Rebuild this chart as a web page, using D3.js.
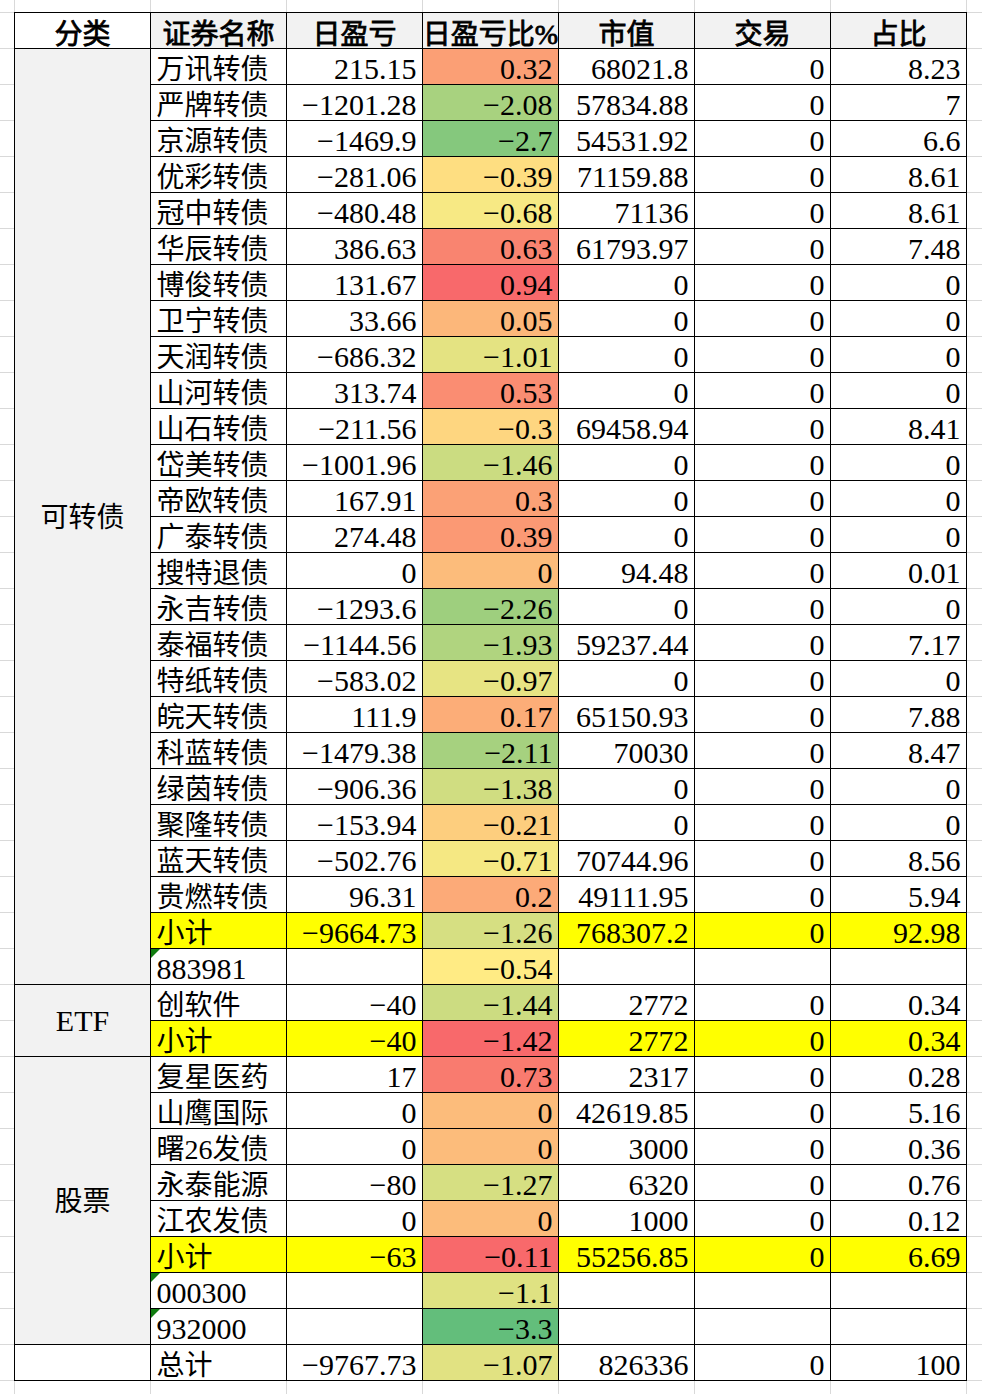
<!DOCTYPE html>
<html>
<head>
<meta charset="utf-8">
<script src="https://cdn.jsdelivr.net/npm/d3@7"></script>
<style>
  html, body { margin: 0; padding: 0; background: #fff; }
  svg { display: block; }
  .cell-text { font-family: "Liberation Serif", "Noto Sans CJK SC", serif; fill: #000; }
</style>
</head>
<body>
<div id="main-table"></div>
<script>
var headers = ["分类", "证券名称", "日盈亏", "日盈亏比%", "市值", "交易", "占比"];

var categories = ["可转债", "ETF", "股票", ""];
var categorySize = [26, 2, 8, 1];

var names = [
  "万讯转债", "严牌转债", "京源转债", "优彩转债", "冠中转债", "华辰转债", "博俊转债", "卫宁转债",
  "天润转债", "山河转债", "山石转债", "岱美转债", "帝欧转债", "广泰转债", "搜特退债", "永吉转债",
  "泰福转债", "特纸转债", "皖天转债", "科蓝转债", "绿茵转债", "聚隆转债", "蓝天转债", "贵燃转债",
  "小计", "883981",
  "创软件", "小计",
  "复星医药", "山鹰国际", "曙26发债", "永泰能源", "江农发债", "小计", "000300", "932000",
  "总计"
];

var pnl = [
  215.15, -1201.28, -1469.9, -281.06, -480.48, 386.63, 131.67, 33.66,
  -686.32, 313.74, -211.56, -1001.96, 167.91, 274.48, 0, -1293.6,
  -1144.56, -583.02, 111.9, -1479.38, -906.36, -153.94, -502.76, 96.31,
  -9664.73, null,
  -40, -40,
  17, 0, 0, -80, 0, -63, null, null,
  -9767.73
];

var pnlPct = [
  0.32, -2.08, -2.7, -0.39, -0.68, 0.63, 0.94, 0.05,
  -1.01, 0.53, -0.3, -1.46, 0.3, 0.39, 0, -2.26,
  -1.93, -0.97, 0.17, -2.11, -1.38, -0.21, -0.71, 0.2,
  -1.26, -0.54,
  -1.44, -1.42,
  0.73, 0, 0, -1.27, 0, -0.11, -1.1, -3.3,
  -1.07
];

var marketValue = [
  68021.8, 57834.88, 54531.92, 71159.88, 71136, 61793.97, 0, 0,
  0, 0, 69458.94, 0, 0, 0, 94.48, 0,
  59237.44, 0, 65150.93, 70030, 0, 0, 70744.96, 49111.95,
  768307.2, null,
  2772, 2772,
  2317, 42619.85, 3000, 6320, 1000, 55256.85, null, null,
  826336
];

var trades = [
  0, 0, 0, 0, 0, 0, 0, 0,
  0, 0, 0, 0, 0, 0, 0, 0,
  0, 0, 0, 0, 0, 0, 0, 0,
  0, null,
  0, 0,
  0, 0, 0, 0, 0, 0, null, null,
  0
];

var weight = [
  8.23, 7, 6.6, 8.61, 8.61, 7.48, 0, 0,
  0, 0, 8.41, 0, 0, 0, 0.01, 0,
  7.17, 0, 7.88, 8.47, 0, 0, 8.56, 5.94,
  92.98, null,
  0.34, 0.34,
  0.28, 5.16, 0.36, 0.76, 0.12, 6.69, null, null,
  100
];

// codes stored as text (green corner mark)
var textCodes = ["883981", "000300", "932000"];

var W = 982, H = 1394;
var nCols = headers.length;
var nRows = names.length + 1;

var x = d3.scaleLinear().domain([0, nCols]).range([14.5, 966.5]);
var y = d3.scaleLinear().domain([0, nRows]).range([12.5, 1380.5]);
var rowH = y(1) - y(0);

// build rows
var rows = [];
var ci = 0, left = categorySize[0];
names.forEach(function(n, i) {
  if (left === 0) { ci++; left = categorySize[ci]; }
  left--;
  rows.push({
    i: i + 1,
    name: n,
    cat: categories[ci],
    values: [pnl[i], pnlPct[i], marketValue[i], trades[i], weight[i]]
  });
});

// colour scale for 日盈亏比% (subtotals of ETF / 股票 sit in their own rule)
function ownRule(r) { return r.name === "小计" && r.cat !== "可转债"; }
var mainPct = rows.filter(function(r) { return !ownRule(r); }).map(function(r) { return r.values[1]; });
var color = d3.scaleLinear()
  .domain([d3.min(mainPct), d3.median(mainPct), d3.max(mainPct)])
  .range(["#63BE7B", "#FFEB84", "#F8696B"]);

function fmt(v) {
  if (v === null || v === undefined) return "";
  return String(v).replace("-", "\u2212");
}

var svg = d3.select("#main-table")
  .append("svg")
    .attr("width", W)
    .attr("height", H);

svg.append("rect").attr("width", W).attr("height", H).attr("fill", "#fff");

// sheet gridlines
var grid = svg.append("g").attr("stroke", "#D9D9D9").attr("stroke-width", 1);
grid.selectAll("line.v")
  .data(d3.range(0, nCols + 2))
  .enter().append("line")
    .attr("x1", function(d) { return x(d); })
    .attr("x2", function(d) { return x(d); })
    .attr("y1", 0).attr("y2", H);
grid.selectAll("line.h")
  .data(d3.range(-1, nRows + 2))
  .enter().append("line")
    .attr("y1", function(d) { return y(d); })
    .attr("y2", function(d) { return y(d); })
    .attr("x1", 0).attr("x2", W);

// header
var head = svg.append("g");
head.selectAll("rect")
  .data(headers)
  .enter().append("rect")
    .attr("x", function(d, i) { return x(i); })
    .attr("y", y(0))
    .attr("width", function(d, i) { return x(i + 1) - x(i); })
    .attr("height", rowH)
    .attr("fill", function(d, i) { return i === 0 ? "#fff" : "#F2F2F2"; })
    .attr("stroke", "#000");
head.selectAll("text")
  .data(headers)
  .enter().append("text")
    .attr("class", "cell-text")
    .attr("x", function(d, i) { return (x(i) + x(i + 1)) / 2; })
    .attr("y", y(1) - 5)
    .attr("text-anchor", "middle")
    .attr("font-size", 28)
    .attr("stroke", "#000")
    .attr("stroke-width", 0.8)
    .text(function(d) { return d; });

// category (merged) cells
var catStart = [];
categorySize.reduce(function(acc, s) { catStart.push(acc); return acc + s; }, 1);
var cat = svg.append("g");
cat.selectAll("rect")
  .data(categories)
  .enter().append("rect")
    .attr("x", x(0))
    .attr("y", function(d, i) { return y(catStart[i]); })
    .attr("width", x(1) - x(0))
    .attr("height", function(d, i) { return y(catStart[i] + categorySize[i]) - y(catStart[i]); })
    .attr("fill", function(d) { return d ? "#F2F2F2" : "#fff"; })
    .attr("stroke", "#000");
cat.selectAll("text")
  .data(categories)
  .enter().append("text")
    .attr("class", "cell-text")
    .attr("x", (x(0) + x(1)) / 2)
    .attr("y", function(d, i) { return (y(catStart[i]) + y(catStart[i] + categorySize[i])) / 2 + 10; })
    .attr("text-anchor", "middle")
    .attr("font-size", function(d) { return /^[A-Z]+$/.test(d) ? 30 : 28; })
    .text(function(d) { return d; });

// body rows
var body = svg.selectAll("g.row")
  .data(rows)
  .enter().append("g")
    .attr("class", "row")
    .attr("transform", function(d) { return "translate(0," + y(d.i) + ")"; });

// name cell
body.append("rect")
  .attr("x", x(1))
  .attr("width", x(2) - x(1))
  .attr("height", rowH)
  .attr("fill", function(d) { return d.name === "小计" ? "#FFFF00" : "#fff"; })
  .attr("stroke", "#000");

body.append("text")
  .attr("class", "cell-text")
  .attr("x", x(1) + 6)
  .attr("y", rowH - 5.5)
  .attr("font-size", function(d) { return /^\d+$/.test(d.name) ? 30 : 28; })
  .text(function(d) { return d.name; });

body.filter(function(d) { return textCodes.indexOf(d.name) >= 0; })
  .append("path")
    .attr("d", function() {
      var x0 = x(1) + 0.5;
      return "M" + x0 + ",0.5 L" + (x0 + 9) + ",0.5 L" + x0 + "," + 9.5 + "Z";
    })
    .attr("fill", "#107C10");

// value cells
var cells = body.selectAll("g.cell")
  .data(function(d) {
    return d.values.map(function(v, k) { return { v: v, k: k, row: d }; });
  })
  .enter().append("g")
    .attr("class", "cell");

cells.append("rect")
  .attr("x", function(c) { return x(c.k + 2); })
  .attr("width", function(c) { return x(c.k + 3) - x(c.k + 2); })
  .attr("height", rowH)
  .attr("fill", function(c) {
    if (c.k === 1 && c.v !== null) {
      return ownRule(c.row) ? color.range()[2] : color(c.v);
    }
    return c.row.name === "小计" ? "#FFFF00" : "#fff";
  })
  .attr("stroke", "#000");

cells.append("text")
  .attr("class", "cell-text")
  .attr("x", function(c) { return x(c.k + 3) - 6; })
  .attr("y", rowH - 5.5)
  .attr("text-anchor", "end")
  .attr("font-size", 30)
  .text(function(c) { return fmt(c.v); });
</script>
</body>
</html>
